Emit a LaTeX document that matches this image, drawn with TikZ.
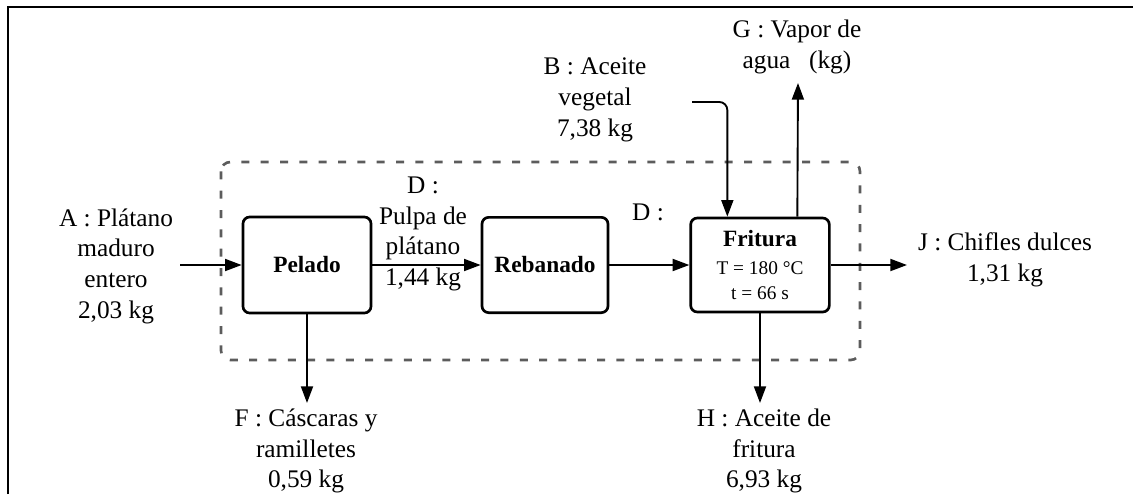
\documentclass[tikz,border=0pt]{standalone}
\usepackage{fontspec}
\setmainfont{Liberation Serif}
\usetikzlibrary{arrows.meta}
\definecolor{boundary}{HTML}{5C5C5C}
\begin{document}
\begin{tikzpicture}[x=0.75pt,y=-0.75pt,
  lbl/.style={align=center, font=\fontsize{19}{23}\selectfont, inner sep=0pt},
  unitbox/.style={draw, line width=2pt, rounded corners=5pt, inner sep=0pt, align=center,
                  font=\fontsize{17.5}{20}\selectfont\bfseries},
  flow/.style={line width=1.4pt, -{Triangle[length=12.5pt,width=9pt]}},
  sysline/.style={draw=boundary, line width=2pt, dash pattern=on 6pt off 8.5pt, rounded corners=7pt}
]
\useasboundingbox (0,0) rectangle (1133,494);

% open frame: top edge and left edge
\draw[line width=1.5pt] (8,494) -- (8,7) -- (1133,7);

% system boundary
\draw[sysline] (221,162) rectangle (860,360);

% process units
\node[unitbox, minimum width=96pt, minimum height=72pt] (pel) at (307,265) {Pelado};
\node[unitbox, minimum width=94.5pt, minimum height=71.5pt] (reb) at (545,265) {Rebanado};
\node[unitbox, minimum width=104pt, minimum height=70.5pt] (fri) at (760,265)
  {Fritura\\[1pt]{\mdseries\fontsize{14.5}{16}\selectfont T = 180 °C}\\[-1pt]{\mdseries\fontsize{14.5}{16}\selectfont t = 66 s}};

% stream labels
\node[lbl] (lA) at (116,266) {A : Plátano\\maduro\\entero\\2,03 kg};
\node[lbl] (lD) at (423,234) {D :\\Pulpa de\\plátano\\1,44 kg};
\node[lbl] (lD2) at (648,212) {D :};
\node[lbl] (lB) at (595,100) {B : Aceite\\vegetal\\7,38 kg};
\node[lbl] (lG) at (797,47) {G : Vapor de\\agua\hspace{14pt}(kg)};
\node[lbl] (lJ) at (1005,260) {J : Chifles dulces\\1,31 kg};
\node[lbl] (lF) at (306,451) {F : Cáscaras y\\ramilletes\\0,59 kg};
\node[lbl] (lH) at (764,451) {H : Aceite de\\fritura\\6,93 kg};

% free ends of streams
\coordinate (aIn) at (180,265);
\coordinate (bIn) at (692,102);
\coordinate (gOut) at (798,83);
\coordinate (fOut) at (307,403);
\coordinate (hOut) at (760,403);
\coordinate (jOut) at (907,265);

% streams
\draw[flow] (aIn) -- (pel.west);
\draw[flow] (pel.east) -- (reb.west);
\draw[flow] (reb.east) -- (fri.west);
\draw[flow] (fri.east) -- (jOut);
\draw[flow] (pel.south) -- (fOut);
\draw[flow] (fri.south) -- (hOut);
\draw[flow, rounded corners=6pt] (bIn) -| ([xshift=28.5pt]fri.north west);
\draw[flow] ([xshift=81pt]fri.north west) -- (gOut);
\end{tikzpicture}
\end{document}
